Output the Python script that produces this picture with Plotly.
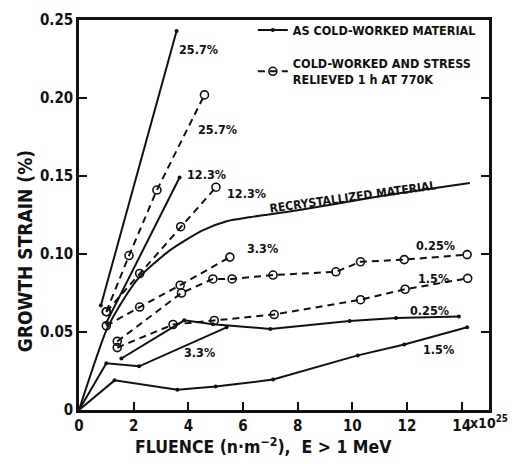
import plotly.graph_objects as go

# ---- data: growth strain (%) vs fluence (x 1e25 n/m^2) ----
# as cold-worked material (solid lines)
x_cw_257 = [0.8, 3.57]
y_cw_257 = [0.067, 0.243]
x_cw_123 = [1.0, 3.68]
y_cw_123 = [0.056, 0.149]
x_cw_33 = [0, 1.0, 2.2, 5.4]
y_cw_33 = [0, 0.030, 0.028, 0.053]
x_cw_025 = [1.55, 3.85, 4.9, 7.0, 9.9, 11.6, 13.9]
y_cw_025 = [0.033, 0.0575, 0.055, 0.052, 0.057, 0.059, 0.060]
x_cw_15 = [0, 1.3, 3.6, 5.0, 7.1, 10.2, 11.9, 14.2]
y_cw_15 = [0, 0.019, 0.013, 0.015, 0.0195, 0.035, 0.042, 0.053]

# recrystallized material
x_rx = [0, 1.0, 1.6, 2.2, 3.3, 4.5, 5.4, 6.2, 8.0, 11.0, 14.3]
y_rx = [0, 0.051, 0.070, 0.085, 0.102, 0.115, 0.121, 0.1235, 0.128, 0.137, 0.1455]

# cold-worked and stress relieved 1 h at 770 K (dashed lines, open circles)
x_sr_257 = [1.0, 1.83, 2.85, 4.59]
y_sr_257 = [0.063, 0.099, 0.141, 0.202]
x_sr_123 = [1.0, 2.22, 3.72, 5.01]
y_sr_123 = [0.063, 0.0875, 0.1175, 0.1428]
x_sr_33 = [1.0, 2.22, 3.7, 5.52]
y_sr_33 = [0.054, 0.066, 0.080, 0.098]
x_sr_025 = [1.4, 3.75, 4.9, 5.6, 7.1, 9.4, 10.3, 11.9, 14.2]
y_sr_025 = [0.044, 0.075, 0.084, 0.084, 0.0865, 0.0886, 0.095, 0.0964, 0.0996]
x_sr_15 = [1.4, 3.44, 4.95, 7.14, 10.3, 11.93, 14.22]
y_sr_15 = [0.040, 0.0548, 0.0574, 0.0612, 0.0707, 0.0774, 0.0844]

# curve labels: (text, x, y)
curve_labels = [
    ("25.7%", 3.6, 0.231),
    ("25.7%", 4.28, 0.180),
    ("12.3%", 3.88, 0.151),
    ("12.3%", 5.34, 0.139),
    ("3.3%", 6.07, 0.1034),
    ("0.25%", 12.26, 0.1055),
    ("1.5%", 12.32, 0.0844),
    ("0.25%", 12.02, 0.0639),
    ("1.5%", 12.5, 0.039),
    ("3.3%", 3.76, 0.0369),
]

x_ticks = [0, 2, 4, 6, 8, 10, 12, 14]
y_ticks = [0, 0.05, 0.10, 0.15, 0.20, 0.25]
y_ticktext = ["0", "0.05", "0.10", "0.15", "0.20", "0.25"]

FONT = "DejaVu Sans Condensed, Liberation Sans Narrow, Arial Narrow, sans-serif"
INK = "#111111"


def lettering(size):
    return dict(family=FONT, size=size, color=INK, weight="bold")


fig = go.Figure()

solid_line = dict(color=INK, width=2)
dot_marker = dict(size=4, color=INK)
cw_series = [(x_cw_257, y_cw_257), (x_cw_123, y_cw_123), (x_cw_33, y_cw_33),
             (x_cw_025, y_cw_025), (x_cw_15, y_cw_15)]
for i, (xs, ys) in enumerate(cw_series):
    fig.add_trace(go.Scatter(
        x=xs, y=ys, mode="lines+markers", line=solid_line, marker=dot_marker,
        name="AS COLD-WORKED MATERIAL", legendgroup="cw", showlegend=(i == 0)))

fig.add_trace(go.Scatter(
    x=x_rx, y=y_rx, mode="lines", line=dict(color=INK, width=2, shape="spline", smoothing=0.6),
    showlegend=False))

dash_line = dict(color=INK, width=2, dash="7px,5px")
circle_marker = dict(size=8, symbol="circle-open", color=INK, line=dict(width=1.6, color=INK))
sr_series = [(x_sr_257, y_sr_257), (x_sr_123, y_sr_123), (x_sr_33, y_sr_33),
             (x_sr_025, y_sr_025), (x_sr_15, y_sr_15)]
for i, (xs, ys) in enumerate(sr_series):
    fig.add_trace(go.Scatter(
        x=xs, y=ys, mode="lines+markers", line=dash_line, marker=circle_marker,
        name="COLD-WORKED AND STRESS<br>RELIEVED 1 h AT 770K",
        legendgroup="sr", showlegend=(i == 0)))

annotations = []
for text, x, y in curve_labels:
    annotations.append(dict(x=x, y=y, text=text, showarrow=False, xanchor="left",
                            yanchor="middle", font=lettering(12.5)))

annotations.append(dict(x=10.03, y=0.1363, text="RECRYSTALLIZED MATERIAL", showarrow=False,
                        textangle=-8, font=lettering(12)))

# axis titles
annotations.append(dict(xref="paper", yref="paper", x=-0.132, y=0.407,
                        xanchor="center", yanchor="middle",
                        text="GROWTH STRAIN (%)", textangle=-90, showarrow=False,
                        font=lettering(19)))
annotations.append(dict(xref="paper", yref="paper", x=0.451, y=-0.093,
                        xanchor="center", yanchor="middle",
                        text="FLUENCE (n\u00b7m<sup>\u22122</sup>),  E > 1 MeV", showarrow=False,
                        font=lettering(17.5)))
# exponent next to the last tick label
annotations.append(dict(x=14.22, xref="x", yref="paper", y=-0.031, xanchor="left",
                        yanchor="middle", text="x10<sup>25</sup>", showarrow=False,
                        font=lettering(14)))

fig.update_layout(
    width=515, height=464,
    margin=dict(l=79, r=26, t=11, b=54),
    paper_bgcolor="white", plot_bgcolor="white",
    font=dict(family=FONT, color=INK),
    annotations=annotations,
    legend=dict(x=0.424, y=1.012, xanchor="left", yanchor="top",
                bgcolor="rgba(0,0,0,0)", itemwidth=30, tracegroupgap=14,
                font=lettering(12.5)),
)
fig.update_xaxes(range=[0, 15], tickvals=x_ticks, ticktext=[str(v) for v in x_ticks],
                 ticks="inside", ticklen=8, tickwidth=2, tickcolor=INK,
                 showline=True, linewidth=2.5, linecolor=INK, mirror=True,
                 showgrid=False, zeroline=False,
                 tickfont=lettering(15))
fig.update_yaxes(range=[0, 0.25], tickvals=y_ticks, ticktext=y_ticktext,
                 ticks="inside", ticklen=8, tickwidth=2, tickcolor=INK,
                 showline=True, linewidth=2.5, linecolor=INK, mirror="ticks",
                 showgrid=False, zeroline=False,
                 tickfont=lettering(15))

fig.write_html("out.html")
